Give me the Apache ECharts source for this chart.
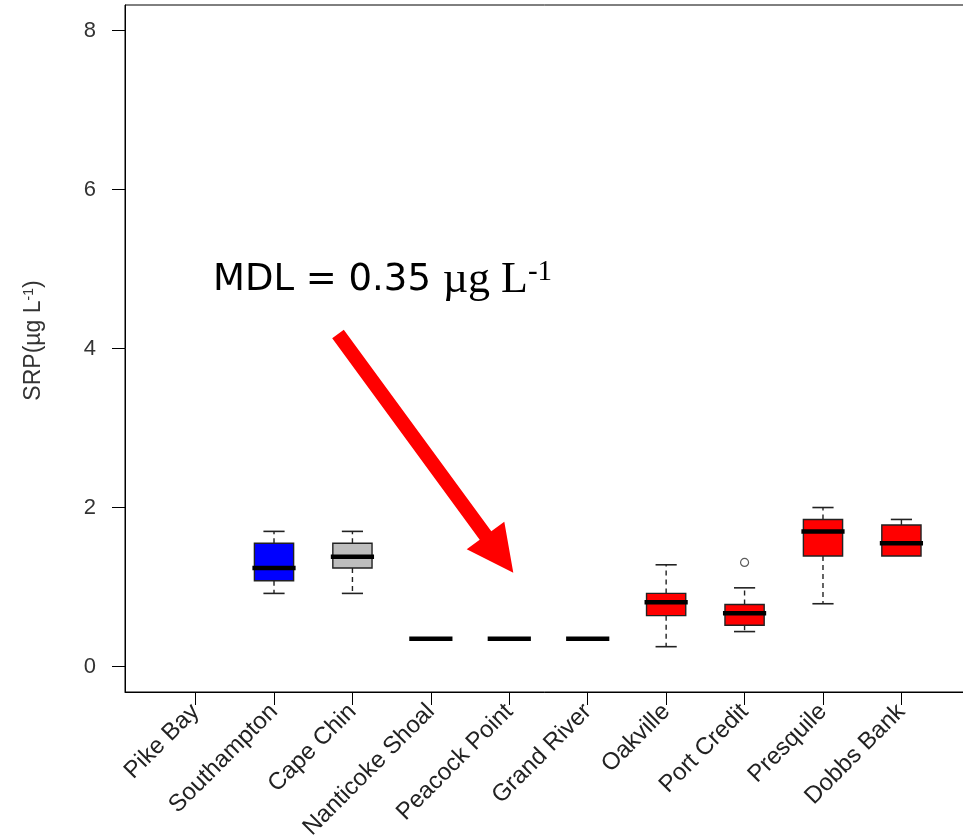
<!DOCTYPE html>
<html><head><meta charset="utf-8">
<script src="https://cdn.jsdelivr.net/npm/echarts@6/dist/echarts.min.js"></script>
<style>html,body{margin:0;padding:0;background:#fff}#c{width:963px;height:836px}</style>
</head><body><div id="c"></div>
<script>
// ---- data ----
const categories = ['Pike Bay','Southampton','Cape Chin','Nanticoke Shoal','Peacock Point','Grand River','Oakville','Port Credit','Presquile','Dobbs Bank'];
const whiskerLow  = [null, 0.92, 0.92, 0.35, 0.35, 0.35, 0.25, 0.44, 0.79, 1.39];
const quartile1   = [null, 1.08, 1.24, 0.35, 0.35, 0.35, 0.64, 0.52, 1.39, 1.39];
const medians     = [null, 1.24, 1.38, 0.35, 0.35, 0.35, 0.81, 0.67, 1.70, 1.55];
const quartile3   = [null, 1.55, 1.55, 0.35, 0.35, 0.35, 0.92, 0.78, 1.85, 1.78];
const whiskerHigh = [null, 1.70, 1.70, 0.35, 0.35, 0.35, 1.28, 0.99, 2.00, 1.85];
const outlierSite  = ['Port Credit'];
const outlierValue = [1.31];
const yTicks = [0, 2, 4, 6, 8];
const xTicks = [1, 2, 3, 4, 5, 6, 7, 8, 9, 10];

// ---- styles ----
const boxColors = ['#ffffff','#0000ff','#bebebe','#ff0000','#ff0000','#ff0000','#ff0000','#ff0000','#ff0000','#ff0000'];

const boxData = [];
categories.forEach((c, i) => {
  if (medians[i] == null) return;
  boxData.push([i + 1, whiskerLow[i], quartile1[i], medians[i], quartile3[i], whiskerHigh[i]]);
});
const outlierData = outlierSite.map((s, k) => [categories.indexOf(s) + 1, outlierValue[k]]);

function renderItem(params, api) {
  const x = api.value(0);
  const lo = api.value(1), q1 = api.value(2), md = api.value(3), q3 = api.value(4), hi = api.value(5);
  const halfBox = api.size([0.25, 0])[0];
  const halfCap = api.size([0.135, 0])[0];
  const pLo = api.coord([x, lo]), pQ1 = api.coord([x, q1]), pMd = api.coord([x, md]);
  const pQ3 = api.coord([x, q3]), pHi = api.coord([x, hi]);
  const cx = pMd[0];
  const color = boxColors[x - 1];
  const wStyle = { stroke: '#222', lineWidth: 1.4, lineDash: [5, 4] };
  const cStyle = { stroke: '#222', lineWidth: 1.6 };
  const children = [];
  if (hi > q3) children.push({ type: 'line', shape: { x1: cx, y1: pQ3[1], x2: cx, y2: pHi[1] }, style: wStyle });
  if (lo < q1) children.push({ type: 'line', shape: { x1: cx, y1: pQ1[1], x2: cx, y2: pLo[1] }, style: wStyle });
  if (hi > q3) children.push({ type: 'line', shape: { x1: cx - halfCap, y1: pHi[1], x2: cx + halfCap, y2: pHi[1] }, style: cStyle });
  if (lo < q1) children.push({ type: 'line', shape: { x1: cx - halfCap, y1: pLo[1], x2: cx + halfCap, y2: pLo[1] }, style: cStyle });
  if (q3 > q1) children.push({ type: 'rect', shape: { x: cx - halfBox, y: pQ3[1], width: 2 * halfBox, height: pQ1[1] - pQ3[1] },
    style: { fill: color, stroke: '#222', lineWidth: 1.4 } });
  children.push({ type: 'line', shape: { x1: cx - halfBox - 2, y1: pMd[1], x2: cx + halfBox + 2, y2: pMd[1] },
    style: { stroke: '#000', lineWidth: 4.5 } });
  return { type: 'group', children };
}

const chart = echarts.init(document.getElementById('c'), null, { renderer: 'canvas' });
chart.setOption({
  animation: false,
  backgroundColor: '#fff',
  grid: { left: 125, top: 5, right: -9, bottom: 144, show: true, borderColor: '#000', borderWidth: 1,
    backgroundColor: 'transparent', containLabel: false, outerBoundsMode: 'none' },
  xAxis: {
    type: 'value', min: 0.1, max: 10.9,
    axisLine: { show: true, onZero: false, lineStyle: { color: '#000', width: 1 } },
    axisTick: { show: true, length: 13, customValues: xTicks, lineStyle: { color: '#000', width: 1 } },
    axisLabel: { customValues: xTicks, rotate: 45, margin: 16, fontSize: 24, color: '#222', fontFamily: 'Liberation Sans',
      formatter: v => categories[Math.round(v) - 1] },
    splitLine: { show: false }
  },
  yAxis: {
    type: 'value', min: -0.32, max: 8.32,
    axisLine: { show: true, lineStyle: { color: '#000', width: 1 } },
    axisTick: { show: true, length: 13, customValues: yTicks, lineStyle: { color: '#000', width: 1 } },
    axisLabel: { customValues: yTicks, margin: 29, fontSize: 22, color: '#333', fontFamily: 'Liberation Sans' },
    splitLine: { show: false },
    name: '{a|SRP(µg L}{s|-1}{a|)}', nameLocation: 'middle', nameRotate: 90, nameGap: 80,
    nameTextStyle: { padding: [0, 0, 0, 16], rich: {
      a: { fontSize: 23, color: '#333', fontFamily: 'Liberation Sans' },
      s: { fontSize: 14, color: '#333', fontFamily: 'Liberation Sans', verticalAlign: 'top' }
    } }
  },
  graphic: [
    { type: 'polygon', silent: true, z: 100,
      shape: { points: [[343.8, 329.7], [491.3, 531.2], [504.3, 521.7], [513.3, 572.7], [466.7, 549.3], [479.7, 539.8], [332.2, 338.3]] },
      style: { fill: '#ff0000' } },
    { type: 'text', left: 213, top: 258, z: 100,
      style: { text: '{a|MDL = 0.35 }{b|µg L}{c|-1}',
        rich: {
          a: { fontSize: 37, fontFamily: 'DejaVu Sans', fill: '#000' },
          b: { fontSize: 44, fontFamily: 'Liberation Serif', fill: '#000' },
          c: { fontSize: 29, fontFamily: 'Liberation Serif', fill: '#000', verticalAlign: 'top' }
        } } }
  ],
  series: [
    { type: 'custom', renderItem, data: boxData, encode: { x: 0, y: [1, 2, 3, 4, 5] }, z: 5 },
    { type: 'scatter', data: outlierData, symbol: 'circle', symbolSize: 8,
      itemStyle: { color: '#fff', borderColor: '#333', borderWidth: 1.2 }, z: 6 }
  ]
});
</script></body></html>
